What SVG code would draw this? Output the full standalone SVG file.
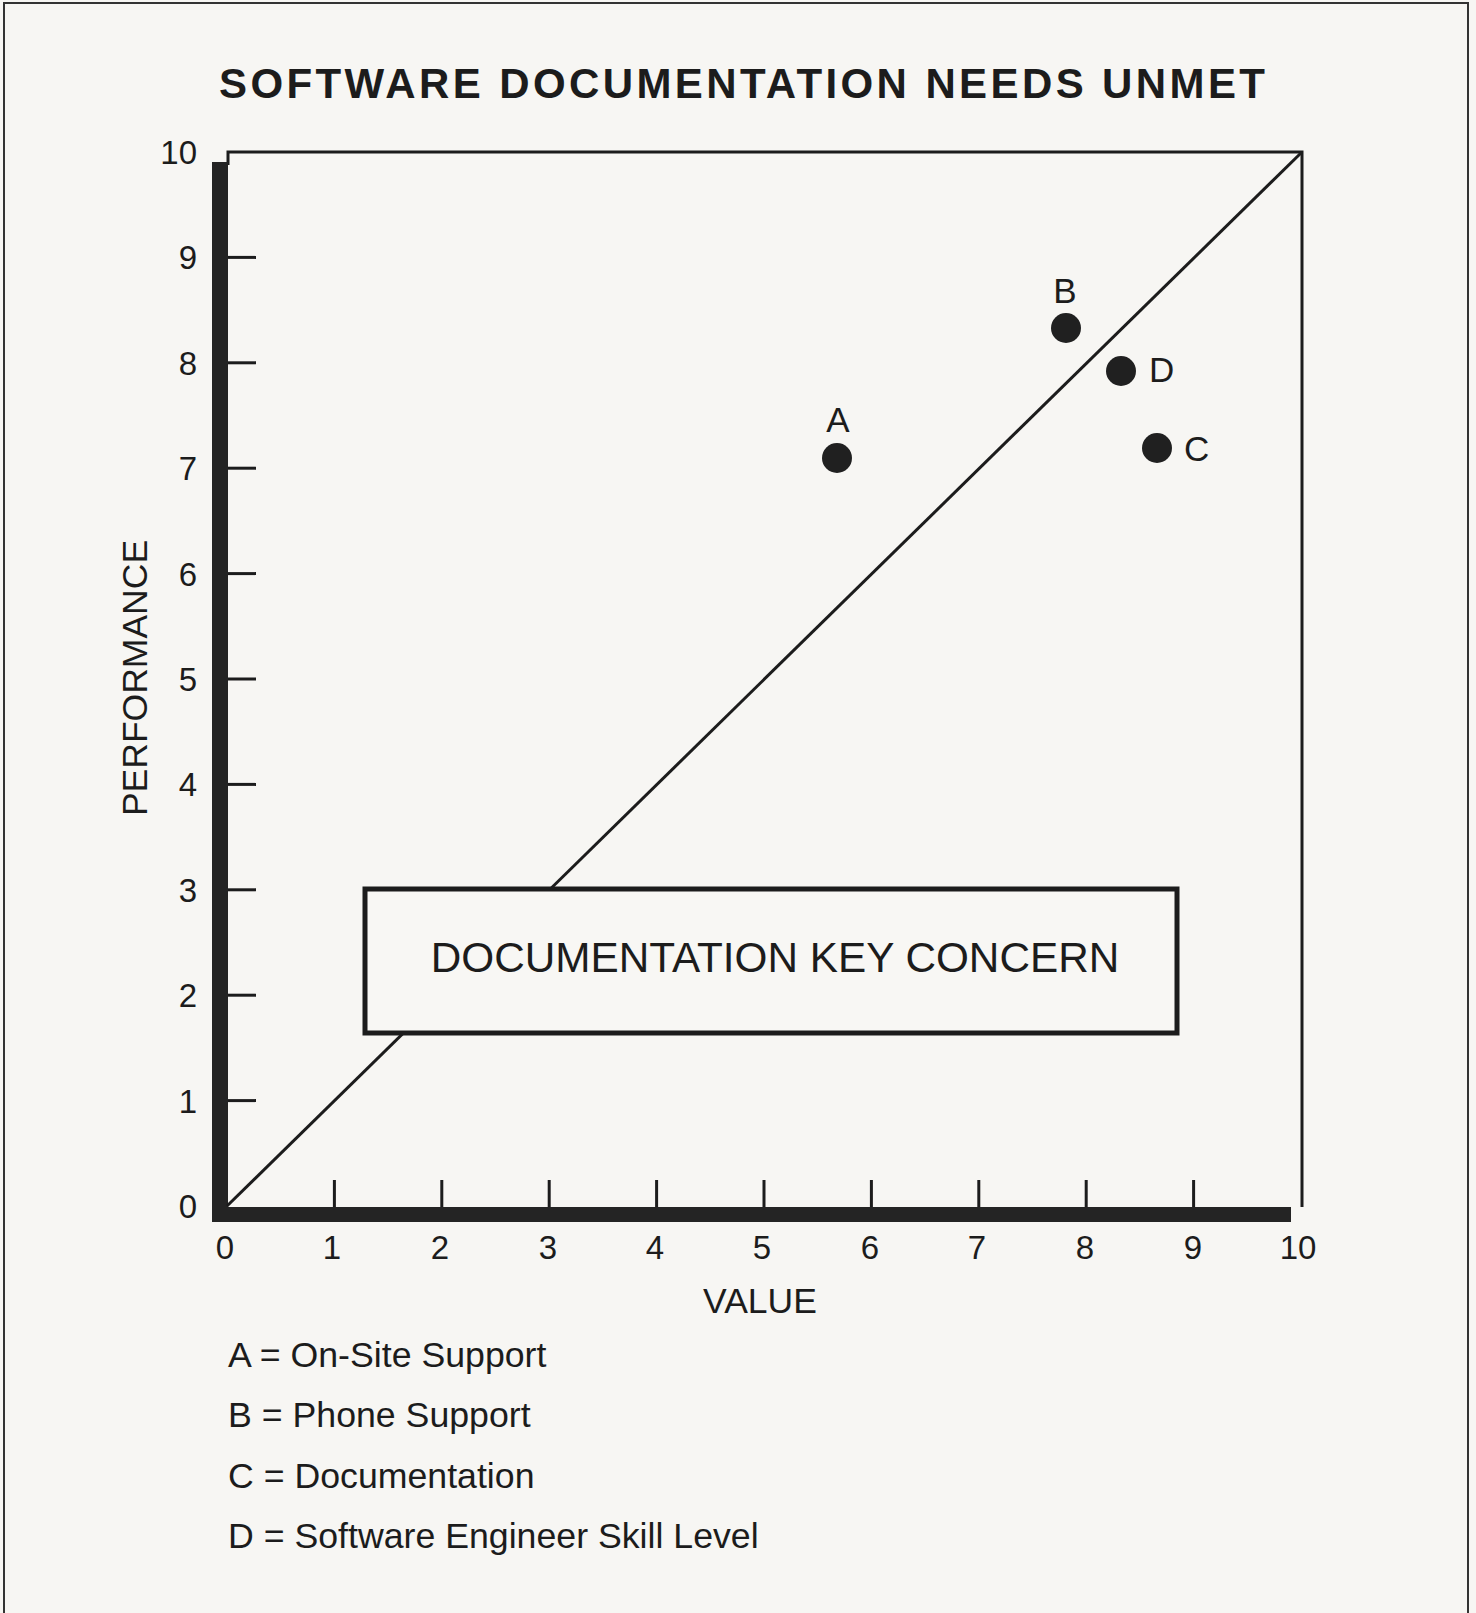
<svg xmlns="http://www.w3.org/2000/svg" width="1476" height="1613" viewBox="0 0 1476 1613">
  <style>
    text { font-family: "Liberation Sans", Arial, Helvetica, sans-serif; fill: #1c1c1c; }
    .title { font-size: 42px; font-weight: bold; }
    .tick-lbl { font-size: 33px; }
    .axis-lbl { font-size: 35.5px; }
    .pt-lbl { font-size: 35px; }
    .legend { font-size: 35.7px; }
    .box-lbl { font-size: 42.3px; }
    .thin { stroke: #1c1c1c; stroke-width: 3; fill: none; }
    .bar { fill: #242424; }
    .pt { fill: #202020; }
  </style>

  <!-- page -->
  <rect x="0" y="0" width="1476" height="1613" fill="#f7f6f3"/>
  <path d="M4 1613 V3 H1468 V1613" fill="none" stroke="#333" stroke-width="2"/>

  <text class="title" x="219" y="98" textLength="1046" lengthAdjust="spacing">SOFTWARE DOCUMENTATION NEEDS UNMET</text>

  <!-- plot frame and axes -->
  <g id="axes">
    <path class="thin" d="M228 165 V152 H1302 V1207"/>
    <rect class="bar" x="212" y="162" width="16" height="1060"/>
    <rect class="bar" x="212" y="1207" width="1079" height="15"/>
    <g class="thin">
      <line x1="228" y1="1100.6" x2="256" y2="1100.6"/>
      <line x1="228" y1="995.2" x2="256" y2="995.2"/>
      <line x1="228" y1="889.8" x2="256" y2="889.8"/>
      <line x1="228" y1="784.4" x2="256" y2="784.4"/>
      <line x1="228" y1="679" x2="256" y2="679"/>
      <line x1="228" y1="573.6" x2="256" y2="573.6"/>
      <line x1="228" y1="468.2" x2="256" y2="468.2"/>
      <line x1="228" y1="362.8" x2="256" y2="362.8"/>
      <line x1="228" y1="257.4" x2="256" y2="257.4"/>
      <line x1="334.4" y1="1180" x2="334.4" y2="1207"/>
      <line x1="441.8" y1="1180" x2="441.8" y2="1207"/>
      <line x1="549.2" y1="1180" x2="549.2" y2="1207"/>
      <line x1="656.6" y1="1180" x2="656.6" y2="1207"/>
      <line x1="764" y1="1180" x2="764" y2="1207"/>
      <line x1="871.4" y1="1180" x2="871.4" y2="1207"/>
      <line x1="978.8" y1="1180" x2="978.8" y2="1207"/>
      <line x1="1086.2" y1="1180" x2="1086.2" y2="1207"/>
      <line x1="1193.6" y1="1180" x2="1193.6" y2="1207"/>
    </g>
    <g class="tick-lbl" text-anchor="end">
      <text x="197" y="1218">0</text>
      <text x="197" y="1112.6">1</text>
      <text x="197" y="1007.2">2</text>
      <text x="197" y="901.8">3</text>
      <text x="197" y="796.4">4</text>
      <text x="197" y="691">5</text>
      <text x="197" y="585.6">6</text>
      <text x="197" y="480.2">7</text>
      <text x="197" y="374.8">8</text>
      <text x="197" y="269.4">9</text>
      <text x="197" y="164">10</text>
    </g>
    <g class="tick-lbl" text-anchor="middle">
      <text x="225" y="1259">0</text>
      <text x="332" y="1259">1</text>
      <text x="440" y="1259">2</text>
      <text x="548" y="1259">3</text>
      <text x="655" y="1259">4</text>
      <text x="762" y="1259">5</text>
      <text x="870" y="1259">6</text>
      <text x="977" y="1259">7</text>
      <text x="1085" y="1259">8</text>
      <text x="1193" y="1259">9</text>
      <text x="1298" y="1259">10</text>
    </g>
    <text class="axis-lbl" x="760" y="1313" text-anchor="middle">VALUE</text>
    <text class="axis-lbl" transform="translate(147 678) rotate(-90)" text-anchor="middle">PERFORMANCE</text>
  </g>

  <!-- value = performance reference line -->
  <g id="connectors">
    <line class="thin" x1="227" y1="1206" x2="1302" y2="152"/>
  </g>

  <g id="key-concern">
    <rect x="365" y="889" width="812" height="144" fill="#f8f7f4" stroke="#1c1c1c" stroke-width="5"/>
    <text class="box-lbl" x="775" y="972" text-anchor="middle">DOCUMENTATION KEY CONCERN</text>
  </g>

  <g id="point-A">
    <circle class="pt" cx="837" cy="458" r="15"/>
    <text class="pt-lbl" x="838" y="432" text-anchor="middle">A</text>
  </g>
  <g id="point-B">
    <circle class="pt" cx="1066" cy="328" r="15"/>
    <text class="pt-lbl" x="1065" y="303" text-anchor="middle">B</text>
  </g>
  <g id="point-D">
    <circle class="pt" cx="1121" cy="371" r="15"/>
    <text class="pt-lbl" x="1149" y="382">D</text>
  </g>
  <g id="point-C">
    <circle class="pt" cx="1157" cy="448" r="15"/>
    <text class="pt-lbl" x="1184" y="461">C</text>
  </g>

  <g id="legend" class="legend">
    <text x="228" y="1367">A = On-Site Support</text>
    <text x="228" y="1427">B = Phone Support</text>
    <text x="228" y="1488">C = Documentation</text>
    <text x="228" y="1548">D = Software Engineer Skill Level</text>
  </g>
</svg>
